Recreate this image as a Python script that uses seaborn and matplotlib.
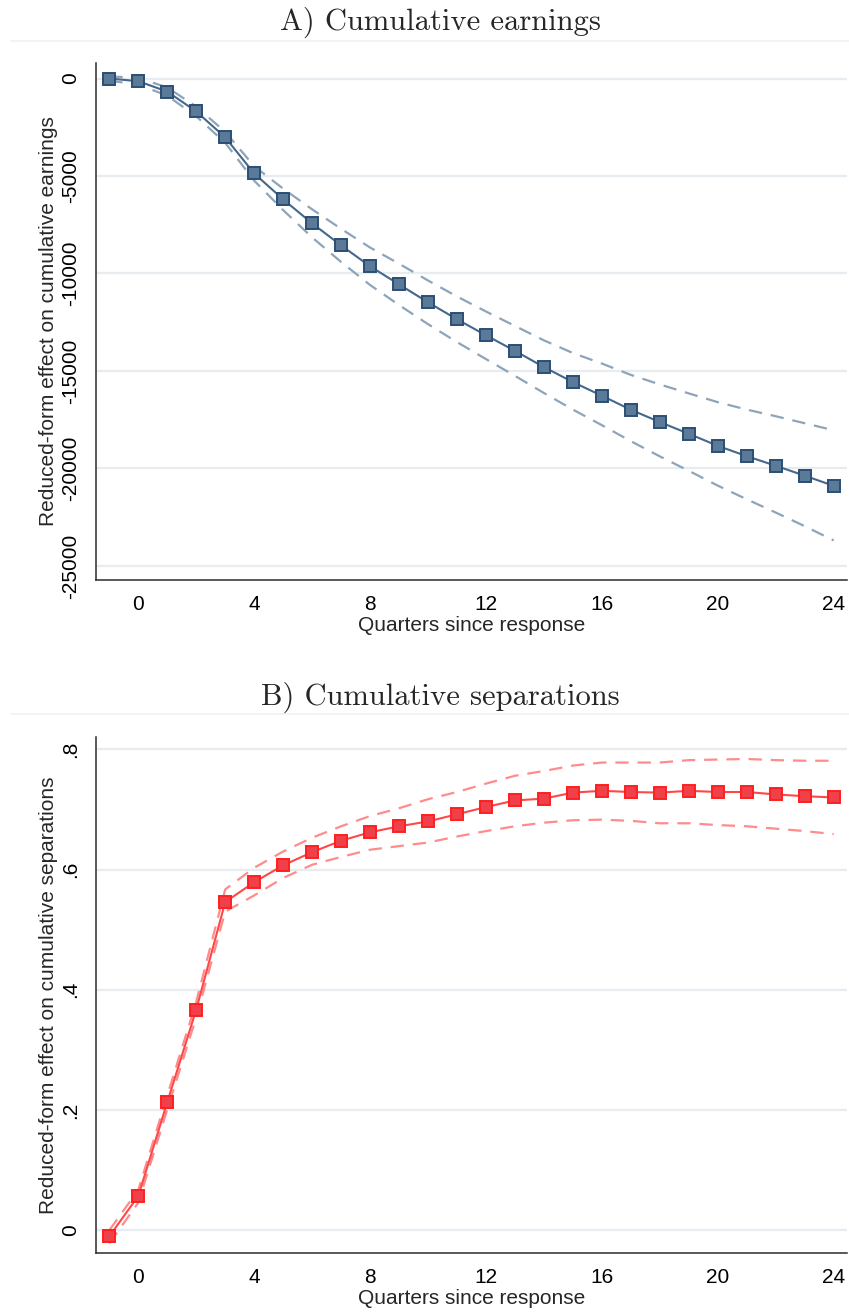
import matplotlib
matplotlib.use("Agg")
import matplotlib.pyplot as plt
from matplotlib.lines import Line2D
import seaborn as sns
import pandas as pd

# Quarters relative to the response
quarters = list(range(-1, 25))

# Panel A: cumulative earnings effect with confidence bounds
earn = [0, -140, -670, -1690, -3020, -4870, -6200, -7430, -8560, -9630,
        -10560, -11480, -12350, -13170, -13970, -14800, -15570, -16270,
        -16990, -17620, -18220, -18840, -19370, -19860, -20370, -20890]
earn_hi = [110, 30, -460, -1440, -2740, -4500, -5650, -6710, -7710, -8670,
           -9500, -10360, -11180, -11950, -12690, -13430, -14080, -14620,
           -15200, -15690, -16150, -16600, -16980, -17320, -17680, -18040]
earn_lo = [-110, -310, -880, -1940, -3300, -5240, -6750, -8150, -9410, -10590,
           -11620, -12600, -13520, -14390, -15250, -16130, -16980, -17780,
           -18600, -19380, -20120, -20880, -21580, -22260, -22960, -23690]

# Panel B: cumulative separations effect with confidence bounds
sep = [-0.010, 0.057, 0.213, 0.367, 0.546, 0.579, 0.607, 0.629, 0.648, 0.662,
       0.672, 0.680, 0.692, 0.704, 0.715, 0.718, 0.728, 0.731, 0.729, 0.728,
       0.731, 0.729, 0.729, 0.725, 0.722, 0.720]
sep_hi = [0.000, 0.067, 0.224, 0.380, 0.567, 0.603, 0.630, 0.653, 0.672, 0.689,
          0.702, 0.717, 0.729, 0.743, 0.756, 0.764, 0.773, 0.778, 0.778, 0.778,
          0.782, 0.783, 0.784, 0.782, 0.781, 0.781]
sep_lo = [-0.022, 0.046, 0.201, 0.354, 0.530, 0.557, 0.586, 0.608, 0.621, 0.633,
          0.639, 0.645, 0.655, 0.664, 0.672, 0.678, 0.682, 0.683, 0.681, 0.677,
          0.677, 0.674, 0.672, 0.668, 0.664, 0.659]

x_ticks = [0, 4, 8, 12, 16, 20, 24]
earn_ticks = [0, -5000, -10000, -15000, -20000, -25000]
sep_ticks = [0, 0.2, 0.4, 0.6, 0.8]
sep_tick_labels = ["0", ".2", ".4", ".6", ".8"]

titles = ["A) Cumulative earnings", "B) Cumulative separations"]
x_label = "Quarters since response"
y_labels = ["Reduced-form effect on cumulative earnings",
            "Reduced-form effect on cumulative separations"]

sns.set_style("white")
plt.rcParams["font.family"] = ["Liberation Sans", "DejaVu Sans"]
plt.rcParams["axes.unicode_minus"] = False

FS = 15
W, H = 849, 1314
fig = plt.figure(figsize=(W / 100, H / 100), dpi=100)


def px_box(left, top, right, bottom):
    return [left / W, 1 - bottom / H, (right - left) / W, (bottom - top) / H]


ax_a = fig.add_axes(px_box(95.7, 63, 847, 580))
ax_b = fig.add_axes(px_box(95.7, 737, 847, 1253))

grid_col = "#e6ecf0"
axis_col = "#2b2b2b"


def style_axes(ax):
    for s in ["top", "right"]:
        ax.spines[s].set_visible(False)
    for s in ["left", "bottom"]:
        ax.spines[s].set_color(axis_col)
        ax.spines[s].set_linewidth(1.1)
    ax.set_xlim(-1.47, 24.46)
    ax.set_xticks(x_ticks)
    ax.tick_params(axis="both", direction="out", length=6, width=1.0,
                   color=axis_col, labelsize=FS, labelcolor="black", pad=5)
    ax.tick_params(axis="y", labelrotation=90)
    for lab in ax.get_yticklabels():
        lab.set_va("center")
    ax.grid(False)
    ax.set_axisbelow(True)
    ax.set_xlabel(x_label, fontsize=FS)
    ax.xaxis.set_label_coords(0.5, -0.069)
    ax.yaxis.set_label_coords(-0.050, 0.5)


def draw_panel(ax, y, hi, lo, line_col, ci_col, face, edge):
    df = pd.DataFrame({"q": quarters, "y": y, "hi": hi, "lo": lo})
    for col in ["hi", "lo"]:
        sns.lineplot(data=df, x="q", y=col, ax=ax, color=ci_col, lw=1.6,
                     errorbar=None, linestyle=(0, (6, 4)), zorder=3)
    sns.lineplot(data=df, x="q", y="y", ax=ax, color=line_col, lw=1.5,
                 errorbar=None, marker="s", markersize=8.4,
                 markerfacecolor=face, markeredgecolor=edge,
                 markeredgewidth=1.4, zorder=4)


# Panel A
draw_panel(ax_a, earn, earn_hi, earn_lo, "#44678c", "#8ea4b9",
           "#5a7a98", "#2a4e76")
ax_a.set_ylim(-25720, 795)
ax_a.set_yticks(earn_ticks)
for t in earn_ticks:
    ax_a.axhline(t, color=grid_col, lw=1.6, zorder=1)
ax_a.set_ylabel(y_labels[0], fontsize=FS)
style_axes(ax_a)

# Panel B
draw_panel(ax_b, sep, sep_hi, sep_lo, "#ff4747", "#ff8c8c",
           "#f0404a", "#ff1f1f")
ax_b.set_ylim(-0.0378, 0.8205)
ax_b.set_yticks(sep_ticks)
ax_b.set_yticklabels(sep_tick_labels)
for t in sep_ticks:
    ax_b.axhline(t, color=grid_col, lw=1.6, zorder=1)
ax_b.set_ylabel(y_labels[1], fontsize=FS)
style_axes(ax_b)

# Panel titles with a thin rule beneath each
for title, base_y, rule_y in [(titles[0], 30, 40.7), (titles[1], 705, 714)]:
    fig.text(440 / W, 1 - base_y / H, title, family="cmr10", fontsize=22,
             ha="center", va="baseline")
    fig.add_artist(Line2D([11 / W, 1.0], [1 - rule_y / H, 1 - rule_y / H],
                          transform=fig.transFigure, color="#eef2f4", lw=1.2))

fig.savefig("out.png", dpi=100)
